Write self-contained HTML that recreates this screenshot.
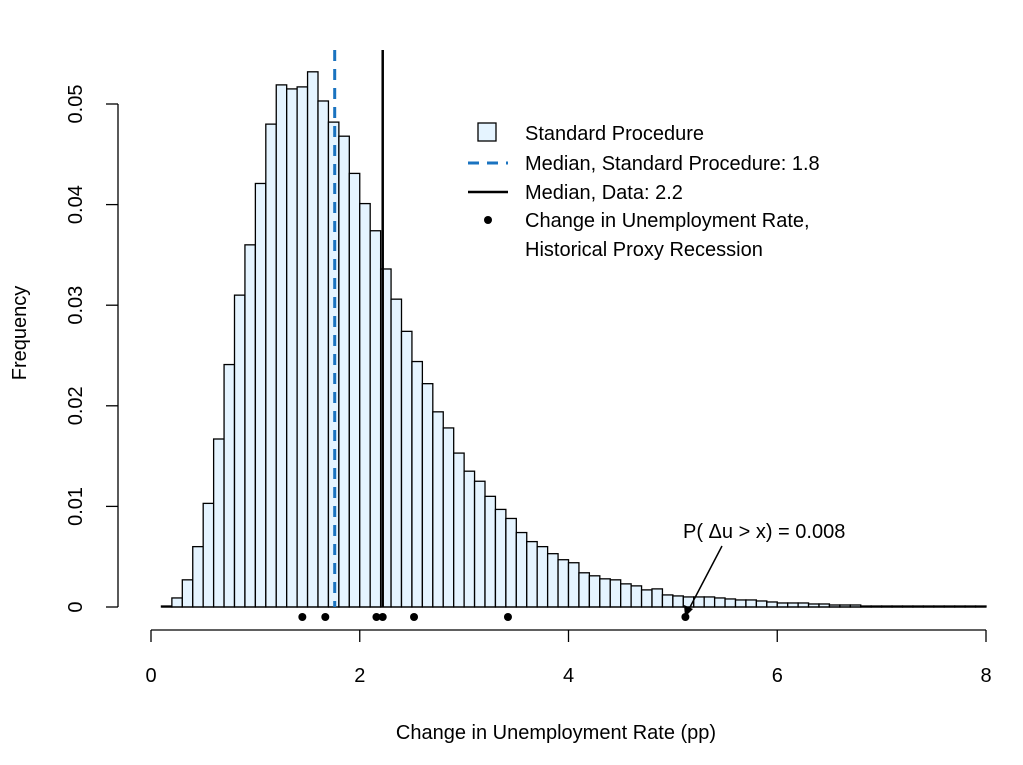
<!DOCTYPE html>
<html><head><meta charset="utf-8"><style>
body{margin:0;background:#fff}
svg{display:block;font-family:"Liberation Sans",sans-serif}
</style></head><body>
<svg id="chart" width="1023" height="765" viewBox="0 0 1023 765">
<g id="bars"></g>
<g id="axes"></g>
<g id="overlay"></g>
<text x="556" y="739" font-size="20" text-anchor="middle">Change in Unemployment Rate (pp)</text>
<text transform="translate(26,333) rotate(-90)" font-size="20" text-anchor="middle">Frequency</text>
<g>
<rect x="478" y="123" width="18" height="18" fill="#e5f4ff" stroke="#000" stroke-width="1.3"/>
<text x="525" y="140" font-size="20">Standard Procedure</text>
<line x1="468" y1="163" x2="508" y2="163" stroke="#1a73c0" stroke-width="3" stroke-dasharray="11,8"/>
<text x="525" y="170" font-size="20">Median, Standard Procedure: 1.8</text>
<line x1="468" y1="192" x2="508" y2="192" stroke="#000" stroke-width="2.5"/>
<text x="525" y="199" font-size="20">Median, Data: 2.2</text>
<circle cx="488" cy="220" r="4" fill="#000"/>
<text x="525" y="227" font-size="20">Change in Unemployment Rate,</text>
<text x="525" y="256" font-size="20">Historical Proxy Recession</text>
</g>
<text x="683" y="538" font-size="20">P( Δu &gt; x) = 0.008</text>
<line x1="722" y1="546" x2="688" y2="611" stroke="#000" stroke-width="1.5"/>
<polygon points="685,617 684,605 693,609" fill="#000"/>
</svg>
<script>
const binStarts = [0.1,0.2,0.3,0.4,0.5,0.6,0.7,0.8,0.9,1.0,1.1,1.2,1.3,1.4,1.5,1.6,1.7,1.8,1.9,2.0,2.1,2.2,2.3,2.4,2.5,2.6,2.7,2.8,2.9,3.0,3.1,3.2,3.3,3.4,3.5,3.6,3.7,3.8,3.9,4.0,4.1,4.2,4.3,4.4,4.5,4.6,4.7,4.8,4.9,5.0,5.1,5.2,5.3,5.4,5.5,5.6,5.7,5.8,5.9,6.0,6.1,6.2,6.3,6.4,6.5,6.6,6.7,6.8,6.9,7.0,7.1,7.2,7.3,7.4,7.5,7.6,7.7,7.8,7.9];
const freqs = [0.0001,0.0009,0.0027,0.006,0.0103,0.0167,0.0241,0.031,0.036,0.0421,0.048,0.0519,0.0515,0.0517,0.0532,0.0503,0.0482,0.0468,0.0431,0.0401,0.0374,0.0336,0.0306,0.0274,0.0244,0.0222,0.0194,0.0178,0.0153,0.0135,0.0125,0.011,0.0097,0.0088,0.0074,0.0065,0.006,0.0053,0.0047,0.0044,0.0034,0.0031,0.0028,0.0027,0.0023,0.0021,0.0017,0.0018,0.0012,0.0011,0.001,0.001,0.001,0.0009,0.0008,0.0007,0.0007,0.0006,0.0005,0.0004,0.0004,0.0004,0.0003,0.0003,0.0002,0.0002,0.0002,0.0001,0.0001,0.0001,0.0001,0.0001,0.0001,0.0001,0.0001,0.0001,0.0001,0.0001,0.0001];
const binWidth = 0.1;
const historicalPoints = [1.45,1.67,2.16,2.22,2.52,3.42,5.12];
const medianStandard = 1.76;
const medianData = 2.22;
const xTicks = [0,2,4,6,8];
const yTicks = [0,0.01,0.02,0.03,0.04,0.05];
const yTickLabels = ["0","0.01","0.02","0.03","0.04","0.05"];

const NS = "http://www.w3.org/2000/svg";
function xs(v){return 151 + v*104.375;}
function ys(v){return 607 - v*10060;}
function mk(tag, attrs, parent){const e=document.createElementNS(NS,tag);for(const k in attrs)e.setAttribute(k,attrs[k]);parent.appendChild(e);return e;}

const bars=document.getElementById('bars');
binStarts.forEach((b,i)=>{
  const x0=xs(b), x1=xs(b+binWidth), y=ys(freqs[i]);
  const r=mk('rect',{x:x0,y:y,width:x1-x0,height:607-y,fill:'#e5f4ff',stroke:'#000','stroke-width':1.3},bars);
  
  
});
const base=mk('line',{x1:xs(0.1),x2:xs(8),y1:607,y2:607,stroke:'#000','stroke-width':1.3},bars);



const axes=document.getElementById('axes');
const xa=mk('line',{x1:xs(0),x2:xs(8),y1:630,y2:630,stroke:'#000','stroke-width':1.3},axes);


xTicks.forEach(t=>{
  const l=mk('line',{x1:xs(t),x2:xs(t),y1:630,y2:642,stroke:'#000','stroke-width':1.3},axes);
  
  
  const tx=mk('text',{x:xs(t),y:682,'font-size':20,'text-anchor':'middle'},axes);
  tx.textContent=String(t);
  
  
});
const ya=mk('line',{x1:118,x2:118,y1:ys(0),y2:ys(0.05),stroke:'#000','stroke-width':1.3},axes);


yTicks.forEach((t,i)=>{
  const l=mk('line',{x1:106,x2:118,y1:ys(t),y2:ys(t),stroke:'#000','stroke-width':1.3},axes);
  
  
  const tx=mk('text',{transform:`translate(82,${ys(t)}) rotate(-90)`,'font-size':20,'text-anchor':'middle'},axes);
  tx.textContent=yTickLabels[i];
  
  
});

const ov=document.getElementById('overlay');
const m1=mk('line',{x1:xs(medianStandard),x2:xs(medianStandard),y1:50,y2:607,stroke:'#1a73c0','stroke-width':3,'stroke-dasharray':'11,8'},ov);


const m2=mk('line',{x1:xs(medianData),x2:xs(medianData),y1:50,y2:607,stroke:'#000','stroke-width':2.5},ov);


historicalPoints.forEach(p=>{
  const c=mk('circle',{cx:xs(p),cy:617,r:4,fill:'#000'},ov);
  
  
});
</script>
</body></html>
